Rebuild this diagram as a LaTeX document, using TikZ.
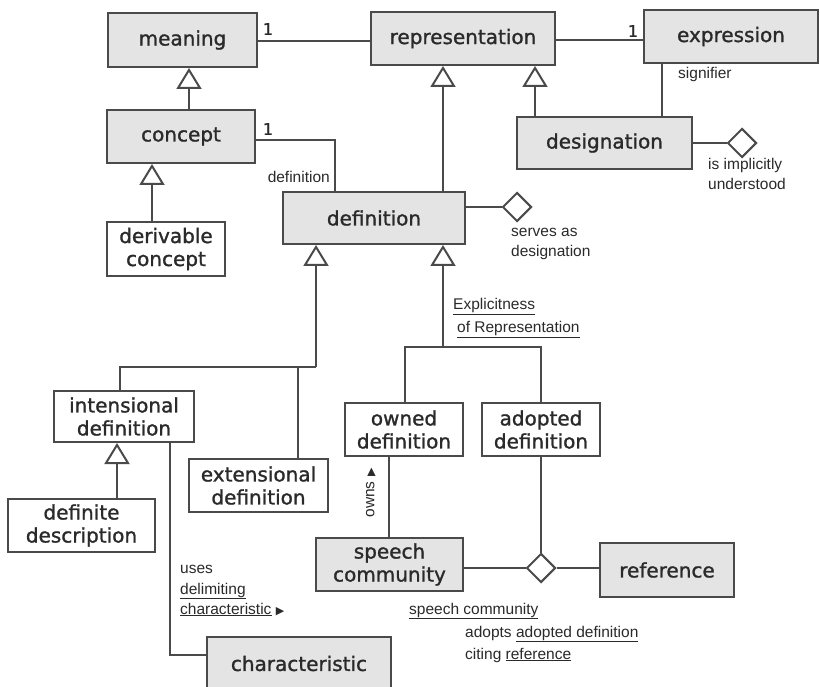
\documentclass[tikz,border=0pt]{standalone}
\usepackage{fontspec}
\usetikzlibrary{shapes.geometric,arrows.meta}
\newfontfamily\boxfont[FakeBold=1.2]{DejaVu Sans}
\newfontfamily\lblfont{Liberation Sans}
\newfontfamily\symfont{DejaVu Sans}
\definecolor{boxgray}{HTML}{E4E4E4}
\definecolor{linec}{HTML}{4A4A4A}
\definecolor{textc}{HTML}{2A2A2A}
\tikzset{
  gbox/.style={draw=linec, fill=boxgray, line width=2pt, inner sep=0pt, text=textc, align=center,
    font={\boxfont\fontsize{20}{23}\selectfont}},
  wbox/.style={gbox, fill=white},
  lbl/.style={font={\lblfont\fontsize{15.5}{20}\selectfont}, text=textc, inner sep=0pt, align=left},
  mult/.style={font={\boxfont\fontsize{16}{18}\selectfont}, text=textc, inner sep=0pt},
  agg/.style={diamond, draw=linec, fill=white, line width=2pt, minimum width=29pt, minimum height=29pt, inner sep=0pt},
  conn/.style={draw=linec, line width=2pt},
  gen/.style={conn, -{Triangle[open, length=21pt, width=25pt]}}
}
\begin{document}
\begin{tikzpicture}[x=1pt,y=-1pt]
\useasboundingbox[fill=white] (0,0) rectangle (820,687);
% boxes
\node[gbox, minimum width=149pt, minimum height=54pt] (meaning) at (182.5,40) {meaning};
\node[gbox, minimum width=184pt, minimum height=53pt] (representation) at (463,38.5) {representation};
\node[gbox, minimum width=174pt, minimum height=53pt] (expression) at (731,36.5) {expression};
\node[gbox, minimum width=175pt, minimum height=52pt] (designation) at (604.5,143) {designation};
\node[gbox, minimum width=148pt, minimum height=53pt] (concept) at (181,136.5) {concept};
\node[wbox, minimum width=118pt, minimum height=54pt] (derivable) at (166,249) {derivable\\concept};
\node[gbox, minimum width=182pt, minimum height=52pt] (definition) at (374,218) {definition};
\node[wbox, minimum width=140pt, minimum height=51pt] (intensional) at (124,416.5) {intensional\\definition};
\node[wbox, minimum width=139pt, minimum height=53pt] (extensional) at (258.5,485.5) {extensional\\definition};
\node[wbox, minimum width=147pt, minimum height=53pt] (definite) at (81.5,525.5) {definite\\description};
\node[wbox, minimum width=118pt, minimum height=53pt] (owned) at (404,429.5) {owned\\definition};
\node[wbox, minimum width=118pt, minimum height=53pt] (adopted) at (541,429.5) {adopted\\definition};
\node[gbox, minimum width=147pt, minimum height=53pt] (speech) at (389.5,564.5) {speech\\community};
\node[gbox, minimum width=134pt, minimum height=54pt] (reference) at (667,570) {reference};
\node[gbox, minimum width=184pt, minimum height=53pt] (characteristic) at (299,663.5) {characteristic};
% aggregation diamonds
\node[agg] (d1) at (742,143) {};
\node[agg] (d2) at (517,207) {};
\node[agg] (d3) at (541,568) {};
% junctions
\coordinate (j1) at (316,367);
\coordinate (j2) at (443,347);
% associations
\draw[conn] ([yshift=-1pt]meaning.east) -- ([yshift=-1pt]meaning.east -| representation.west);
\draw[conn] ([yshift=-1.5pt]representation.east) -- ([yshift=-1.5pt]representation.east -| expression.west);
\draw[conn] ([xshift=57.5pt]designation.north) -- ([xshift=57.5pt]designation.north |- expression.south);
\draw[conn] (designation.east) -- (d1.west);
\draw[conn] ([yshift=11pt]definition.east) -- (d2.west);
\draw[conn] ([yshift=-3.5pt]concept.east) -| ([xshift=-39pt]definition.north);
\draw[conn] ([xshift=46pt]intensional.south) |- ([yshift=8.5pt]characteristic.west);
\draw[conn] ([xshift=-15pt]owned.south) -- ([xshift=-15pt]owned.south |- speech.north);
\draw[conn] (adopted.south) -- (d3.north);
\draw[conn] (d3.west -| speech.east) -- (d3.west);
\draw[conn] (d3.east) -- (d3.east -| reference.west);
% generalizations
\draw[gen] ([xshift=8pt]concept.north) -- ([xshift=8pt]concept.north |- meaning.south);
\draw[gen] ([xshift=-14pt]derivable.north) -- ([xshift=-14pt]derivable.north |- concept.south);
\draw[gen] ([xshift=-69.5pt]designation.north) -- ([xshift=-69.5pt]designation.north |- representation.south);
\draw[gen] ([xshift=69pt]definition.north) -- ([xshift=69pt]definition.north |- representation.south);
\draw[conn] ([xshift=-4pt]intensional.north) |- (j1);
\draw[conn] ([xshift=39.5pt]extensional.north) -- ([xshift=39.5pt]extensional.north |- j1);
\draw[gen] (j1) -- (j1 |- definition.south);
\draw[conn] ([xshift=1pt]owned.north) |- (j2) -| (adopted.north);
\draw[gen] (j2) -- (j2 |- definition.south);
\draw[gen] ([xshift=35.5pt]definite.north) -- ([xshift=35.5pt]definite.north |- intensional.south);
% labels
\node[mult] (m1) at (268,29) {1};
\node[mult] (m2) at (633,31) {1};
\node[mult] (m3) at (268,129) {1};
\node[lbl, anchor=base east] (ldef) at (330,183) {definition};
\node[lbl, anchor=base west] (lsig) at (678,79) {signifier};
\node[lbl, anchor=base west] (lser1) at (511,237) {serves as};
\node[lbl, anchor=base west] (lser2) at (511,257) {designation};
\node[lbl, anchor=base west] (limp1) at (708,170) {is implicitly};
\node[lbl, anchor=base west] (limp2) at (708,190) {understood};
\node[lbl, anchor=base west] (lexp1) at (453,310) {\underline{Explicitness}};
\node[lbl, anchor=base west] (lexp2) at (457,333) {\underline{of Representation}};
\node[lbl, anchor=center, rotate=90] (lowns) at (371,493) {owns {\symfont\fontsize{11}{11}\selectfont ▶}};
\node[lbl, anchor=base west] (luse1) at (180,573) {uses};
\node[lbl, anchor=base west] (luse2) at (180,594) {\underline{delimiting}};
\node[lbl, anchor=base west] (luse3) at (180,614) {\underline{characteristic} {\symfont\fontsize{11}{11}\selectfont ▶}};
\node[lbl, anchor=base west] (lsc1) at (409,614) {\underline{speech community}};
\node[lbl, anchor=base west] (lsc2) at (465,637) {adopts \underline{adopted definition}};
\node[lbl, anchor=base west] (lsc3) at (465,659) {citing \underline{reference}};
\end{tikzpicture}
\end{document}
